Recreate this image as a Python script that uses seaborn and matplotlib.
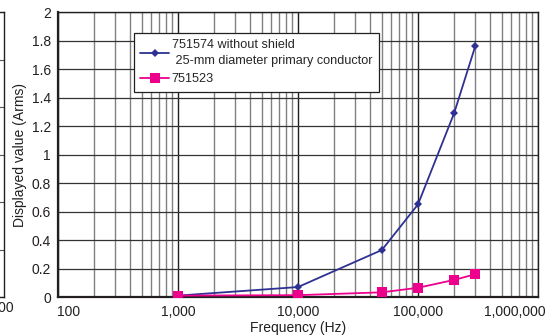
"""Displayed value vs frequency, 751574 without shield vs 751523"""
import matplotlib

matplotlib.use("Agg")
from matplotlib import pyplot as plt
from matplotlib.ticker import FixedLocator, FuncFormatter, LogLocator, NullFormatter
from matplotlib.transforms import ScaledTranslation
from pandas import DataFrame
import seaborn as sns

frequency = [1000, 10000, 50000, 100000, 200000, 300000]
shield_751574 = [0.01, 0.07, 0.33, 0.65, 1.29, 1.76]
probe_751523 = [0.01, 0.013, 0.033, 0.065, 0.12, 0.16]
label_574 = "751574 without shield\n 25-mm diameter primary conductor"
label_523 = "751523"

df = DataFrame(
    {
        "Frequency": frequency * 2,
        "Value": shield_751574 + probe_751523,
        "Series": [label_574] * len(frequency) + [label_523] * len(frequency),
    }
)

sns.set_style("white")
plt.rcParams["font.family"] = ["Liberation Sans", "DejaVu Sans"]
plt.rcParams["font.size"] = 10

fig = plt.figure(figsize=(5.47, 3.36), dpi=100)
ax = fig.add_axes([0.106, 0.116, 0.8775, 0.848])

major_color = "#1e1e1e"
minor_color = "#808080"
sns.lineplot(
    data=df,
    x="Frequency",
    y="Value",
    hue="Series",
    style="Series",
    palette={label_574: "#2e3192", label_523: "#ec008c"},
    markers={label_574: "D", label_523: "s"},
    dashes=False,
    markeredgewidth=0,
    linewidth=1.3,
    ax=ax,
    zorder=3,
)
for line in ax.lines:
    if line.get_marker() == "D":
        line.set_markersize(4.5)
    else:
        line.set_markersize(7)

ax.set_xscale("log")
ax.set_xlim(100, 1_000_000)
ax.set_ylim(0, 2)
ax.xaxis.set_major_locator(LogLocator(base=10))
ax.xaxis.set_minor_locator(LogLocator(base=10, subs=range(2, 10)))
ax.xaxis.set_minor_formatter(NullFormatter())
ax.xaxis.set_major_formatter(FuncFormatter(lambda v, _: f"{int(round(v)):,}"))
ax.yaxis.set_major_locator(FixedLocator([i / 5 for i in range(11)]))
ax.yaxis.set_major_formatter(FuncFormatter(lambda v, _: f"{v:g}"))

ax.grid(True, which="minor", axis="x", color=minor_color, linewidth=1.0)
ax.grid(True, which="major", axis="x", color=major_color, linewidth=1.0)
ax.grid(True, which="major", axis="y", color="#333333", linewidth=0.9)
ax.tick_params(axis="both", which="both", length=0, labelcolor="#231f20")
ax.tick_params(axis="x", pad=6)
ax.tick_params(axis="y", pad=5)
for side in ["left", "bottom", "top", "right"]:
    ax.spines[side].set_visible(True)
    ax.spines[side].set_color("#231f20")
    ax.spines[side].set_linewidth(1.0)
ax.spines["left"].set_linewidth(1.6)
ax.spines["bottom"].set_linewidth(1.6)

ax.set_xlabel("Frequency (Hz)", labelpad=1, color="#231f20")
ax.set_ylabel("Displayed value (Arms)", labelpad=3, color="#231f20")

# first and last x labels are pulled inside, as in the original
fig.canvas.draw()
xlabels = ax.get_xticklabels()
visible = [t for t in xlabels if 100 <= t.get_position()[0] <= 1_000_000]
visible[0].set_ha("left")
visible[0].set_transform(visible[0].get_transform() + ScaledTranslation(-1 / 100, 0, fig.dpi_scale_trans))
visible[-1].set_ha("right")
visible[-1].set_transform(visible[-1].get_transform() + ScaledTranslation(8 / 100, 0, fig.dpi_scale_trans))

leg = ax.legend(
    title=None,
    loc="upper left",
    bbox_to_anchor=(0.158, 0.928),
    frameon=True,
    fancybox=False,
    handlelength=2.3,
    handletextpad=0.2,
    borderpad=0.5,
    borderaxespad=0,
    labelspacing=0.5,
    fontsize=9.1,
)
for text in leg.get_texts():
    text.set_linespacing(1.45)
leg.get_frame().set_edgecolor("#231f20")
leg.get_frame().set_linewidth(0.9)
leg.get_frame().set_alpha(1)

# fragment of the neighbouring chart at the left edge
side = fig.add_axes([-0.05, 0.116, 0.0573, 0.848])
side.set_xlim(0, 1)
side.set_ylim(0, 6)
side.set_yticks(range(7))
side.set_xticks([])
side.grid(True, axis="y", color="#555555", linewidth=0.8)
side.tick_params(length=0, labelleft=False)
for s in side.spines.values():
    s.set_color("#231f20")
    s.set_linewidth(1.0)
fig.text(0.025, 1 - 308 / 336, "1,000", ha="right", va="center", fontsize=10, color="#231f20")

plt.savefig("out.png", dpi=100)
